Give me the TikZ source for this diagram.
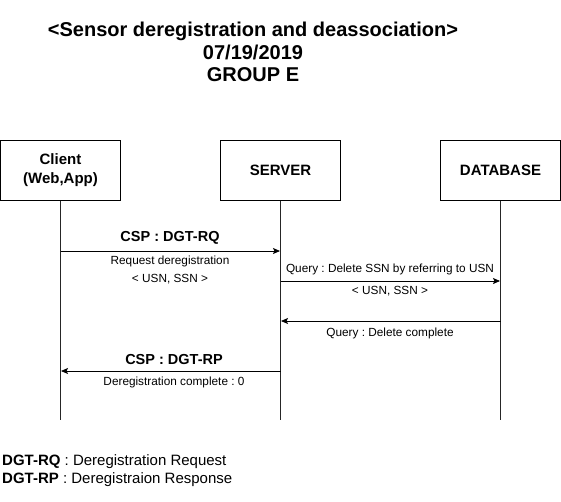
\documentclass[tikz,border=0pt]{standalone}
\usepackage{fontspec}
\setmainfont{Liberation Sans}
\usetikzlibrary{arrows.meta}
\frenchspacing

\begin{document}
\begin{tikzpicture}[x=1pt,y=-1pt]
    \tikzstyle{actor}     = [draw,black,line width=1pt,minimum width=120pt,minimum height=60pt,
                             align=center,font=\fontsize{15}{19}\selectfont\bfseries]
    \tikzstyle{lifeline}  = [-,black!85,line width=1pt]
    \tikzstyle{message}   = [-{Stealth[length=7pt,width=6pt,inset=1.5pt]},black,line width=0.8pt]
    \tikzstyle{protocol}  = [font=\fontsize{14.5}{17}\selectfont\bfseries,inner sep=0pt]
    \tikzstyle{note}      = [font=\fontsize{11.8}{14}\selectfont,inner sep=0pt]
    \tikzstyle{legend}    = [font=\fontsize{15}{18}\selectfont,inner sep=0pt,anchor=west]

    \useasboundingbox (0,0) rectangle (561,501);

    \node[align=center,font=\fontsize{20}{22.5}\selectfont\bfseries] (title) at (253,52)
        {<Sensor deregistration and deassociation>\\07/19/2019\\GROUP E};

    \node[actor] (client) at (60.5,170) {Client\\(Web,App)};
    \node[actor] (server) at (280.5,170) {SERVER};
    \node[actor] (db)     at (500.5,170) {DATABASE};

    \coordinate (client end) at (60.5,420);
    \coordinate (server end) at (280.5,420);
    \coordinate (db end)     at (500.5,420);

    \draw[lifeline] (client)--(client end);
    \draw[lifeline] (server)--(server end);
    \draw[lifeline] (db)--(db end);

    \coordinate (rq from) at (60.5,251);
    \coordinate (rq to)   at (280,251);
    \coordinate (q from)  at (280.5,281);
    \coordinate (q to)    at (500,281);
    \coordinate (qc from) at (500.5,321);
    \coordinate (qc to)   at (281,321);
    \coordinate (rp from) at (280.5,371);
    \coordinate (rp to)   at (61,371);

    \draw[message] (rq from)--(rq to);
    \draw[message] (q from)--(q to);
    \draw[message] (qc from)--(qc to);
    \draw[message] (rp from)--(rp to);

    \node[protocol] (rq name) at (170,238) {CSP : DGT-RQ};
    \node[note]     (rq text) at (170,261) {Request deregistration};
    \node[note]     (rq args) at (170,279) {< USN, SSN >};

    \node[note]     (q text)  at (390,269) {Query : Delete SSN by referring to USN};
    \node[note]     (q args)  at (390,291) {< USN, SSN >};

    \node[note]     (qc text) at (390,333) {Query : Delete complete};

    \node[protocol] (rp name) at (174,359) {CSP : DGT-RP};
    \node[note]     (rp text) at (174,382) {Deregistration complete : 0};

    \node[legend] (rq key) at (2,462) {\textbf{DGT-RQ} : Deregistration Request};
    \node[legend] (rp key) at (2,480) {\textbf{DGT-RP} : Deregistraion Response};
\end{tikzpicture}
\end{document}
